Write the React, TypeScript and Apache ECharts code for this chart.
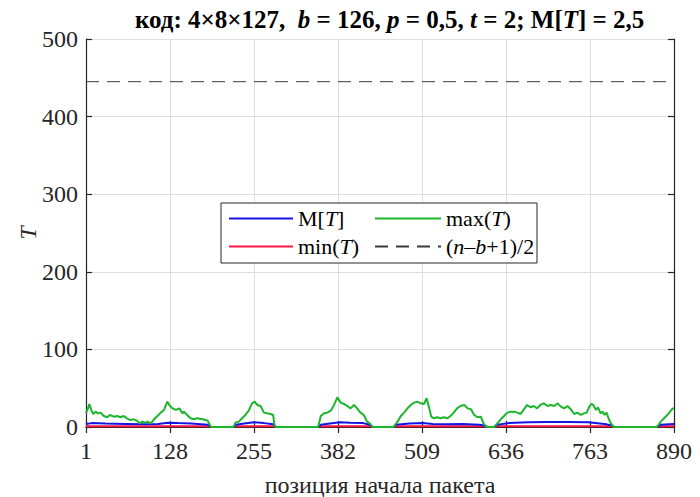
import React, { useEffect, useRef } from 'react';
import * as echarts from 'echarts';

const maxPos = [1, 4, 6, 9, 12, 15.6, 19, 23, 28, 33, 37, 43, 48, 53, 58, 63, 68, 73, 78, 82, 86, 90, 94, 99, 104, 109, 114, 119, 124, 128, 132, 137, 142, 147, 149, 154, 159, 164, 169, 177, 182, 185, 189, 190, 224, 227, 232, 237, 242, 247, 252, 256, 260, 265, 270, 275, 280, 284, 286, 288, 352, 356, 361, 366, 371, 376, 381, 386, 391, 396, 401, 406, 411, 416, 421, 426, 430, 434, 466, 472, 477, 482, 487, 492, 497, 502, 507, 512, 516, 520, 523, 527, 532, 537, 542, 547, 552, 557, 562, 567, 573, 578, 583, 588, 593, 598, 602, 605, 608, 618, 623, 628, 633, 638, 643, 648, 653, 658, 663, 668, 673, 678, 683, 688, 693, 699, 704, 709, 714, 719, 724, 729, 734, 739, 744, 749, 754, 758, 762, 765, 768, 772, 775, 779, 782, 785, 788, 792, 797, 799, 864, 870, 875, 880, 884, 888, 890];
const maxVal = [18, 24, 29.7, 22, 16.8, 19.8, 17.6, 18.5, 14.2, 12.5, 15.5, 13.3, 14.2, 12.5, 14.2, 11.2, 9, 9.9, 8.2, 4.7, 6.9, 5.6, 6.9, 4.7, 9.9, 14.2, 18.5, 21.9, 32.7, 27, 24, 22, 24, 17.6, 19.8, 15.5, 11.2, 9.9, 11.2, 9.9, 9, 8.2, 1.3, 0, 0, 5.6, 6.9, 11.2, 15.5, 21, 30.5, 32.7, 28.4, 27, 18.5, 17.6, 16.8, 15.5, 1.3, 0, 0, 14.2, 17.6, 18.5, 21, 28.4, 38.2, 31.4, 29.7, 27, 24, 28.4, 24, 18.5, 15.5, 6.9, 4.7, 0, 0, 6.9, 14.2, 18.5, 24, 28.4, 31.4, 32.7, 30.5, 29.7, 37, 24, 13.3, 11.2, 12.5, 11.2, 12.5, 11.2, 14.2, 18.5, 24, 27, 28.4, 24, 22.8, 15.5, 12.5, 13.3, 4.7, 1.3, 0, 0, 4.7, 9.9, 14.2, 18.5, 19.8, 19.8, 18.5, 16.8, 22.8, 28.4, 25.4, 27, 24, 28.4, 30.5, 27, 28.4, 27, 30.5, 26.2, 24, 27, 22.8, 16.8, 18.5, 15.5, 17.6, 18.5, 26.2, 29.7, 28.4, 22, 25.4, 17.6, 19.8, 15.5, 18.5, 9, 1.3, 0, 0, 6.9, 11.2, 15.5, 19.8, 24, 24];

const meanPos = [1, 10, 30, 60, 90, 110, 125, 140, 160, 185, 190, 224, 228, 240, 255, 270, 284, 288, 352, 356, 370, 385, 400, 420, 430, 434, 466, 470, 490, 510, 525, 545, 570, 595, 604, 608, 618, 623, 640, 670, 700, 730, 760, 785, 797, 799, 864, 870, 890];
const meanVal = [4, 5, 4.5, 4, 3.5, 4, 5.5, 5, 4.5, 3, 0, 0, 3, 4.5, 6, 5, 3.5, 0, 0, 3, 4.5, 6, 5.5, 5, 3, 0, 0, 3, 4.5, 5, 4, 3.5, 4, 3, 2, 0, 0, 3, 5, 6, 6.5, 6.5, 6, 4, 2, 0, 0, 3, 4];

const minPos = [1, 189, 190, 224, 225, 287, 288, 352, 353, 433, 434, 466, 467, 605, 606, 620, 621, 798, 799, 864, 865, 890];
const minVal = [1, 1, 0, 0, 1, 1, 0, 0, 1, 1, 0, 0, 1, 1, 0, 0, 1, 1, 0, 0, 1, 1];

const boundPos = [1, 890];
const boundVal = [445, 445];

const xMin = 1;
const xMax = 890;
const xStep = 127;
const yMin = 0;
const yMax = 500;
const yStep = 100;

const seriesNames = ['M[T]', 'max(T)', 'min(T)', '(n–b+1)/2'];

const zip = (a: number[], b: number[]) => a.map((x, i) => [x, b[i]]);

const FONT = "'Liberation Serif', 'Times New Roman', 'DejaVu Serif', serif";

export default function App() {
  const ref = useRef<HTMLDivElement>(null);
  useEffect(() => {
    const chart = echarts.init(ref.current!, null, { renderer: 'svg' });
    const legendRich = {
      r: { fontFamily: FONT, fontSize: 22, color: '#000' },
      i: { fontFamily: FONT, fontSize: 22, fontStyle: 'italic', color: '#000' },
    };
    const legendFmt = (name: string) => {
      if (name === 'M[T]') return '{r|M[}{i|T}{r|]}';
      if (name === 'max(T)') return '{r|max(}{i|T}{r|)}';
      if (name === 'min(T)') return '{r|min(}{i|T}{r|)}';
      return '{r|(}{i|n}{r|–}{i|b}{r|+1)/2}';
    };
    const legendItemStyle = { color: 'transparent', borderColor: 'transparent', borderWidth: 0, opacity: 0 };
    const axisCommon = {
      type: 'value',
      axisLine: { show: true, lineStyle: { color: '#262626', width: 1.2 } },
      axisTick: { show: true, inside: true, length: 6, lineStyle: { color: '#262626', width: 1.2 } },
    };
    const option: any = {
      animation: false,
      backgroundColor: '#fff',
      title: {
        text: '{b|код: 4×8×127,  }{i|b}{b| = 126, }{i|p}{b| = 0,5, }{i|t}{b| = 2; M[}{i|T}{b|] = 2,5}',
        left: 130,
        top: 2,
        textStyle: {
          rich: {
            b: { fontFamily: FONT, fontSize: 25, fontWeight: 'bold', color: '#000' },
            i: { fontFamily: FONT, fontSize: 25, fontWeight: 'bold', fontStyle: 'italic', color: '#000' },
          },
        },
      },
      grid: { left: 86, right: 26, top: 39, bottom: 70, outerBoundsMode: 'none', containLabel: false },
      graphic: [
        {
          type: 'rect',
          z: 3,
          shape: { x: 221, y: 203, width: 316, height: 60 },
          style: { fill: '#fff', stroke: '#262626', lineWidth: 1 },
        },
      ],
      legend: [
        {
          data: [seriesNames[0], seriesNames[2]],
          orient: 'vertical',
          left: 223,
          top: 202,
          itemWidth: 64,
          itemHeight: 14,
          itemGap: 5,
          formatter: legendFmt,
          itemStyle: legendItemStyle,
          textStyle: { rich: legendRich, lineHeight: 23 },
          z: 5,
        },
        {
          data: [seriesNames[1], seriesNames[3]],
          orient: 'vertical',
          left: 369,
          top: 202,
          itemWidth: 66,
          itemHeight: 14,
          itemGap: 5,
          formatter: legendFmt,
          itemStyle: legendItemStyle,
          textStyle: { rich: legendRich, lineHeight: 23 },
          z: 5,
        },
      ],
      xAxis: [
        {
          ...axisCommon,
          position: 'bottom',
          min: xMin,
          max: xMax,
          interval: xStep,
          name: 'позиция начала пакета',
          nameLocation: 'middle',
          nameGap: 46,
          nameMoveOverlap: false,
          nameTextStyle: { fontFamily: FONT, fontSize: 24, color: '#262626' },
          axisLabel: { fontFamily: FONT, fontSize: 24, color: '#262626', margin: 12 },
          splitLine: { show: true, lineStyle: { color: '#dedede', width: 1 } },
        },
        {
          ...axisCommon,
          position: 'top',
          min: xMin,
          max: xMax,
          interval: xStep,
          axisLabel: { show: false },
          splitLine: { show: false },
        },
      ],
      yAxis: [
        {
          ...axisCommon,
          position: 'left',
          min: yMin,
          max: yMax,
          interval: yStep,
          name: 'T',
          nameLocation: 'middle',
          nameGap: 46,
          nameMoveOverlap: false,
          nameTextStyle: { fontFamily: FONT, fontSize: 24, fontStyle: 'italic', color: '#262626' },
          axisLabel: { fontFamily: FONT, fontSize: 24, color: '#262626', margin: 8 },
          splitLine: { show: true, lineStyle: { color: '#dedede', width: 1 } },
        },
        {
          ...axisCommon,
          position: 'right',
          min: yMin,
          max: yMax,
          interval: yStep,
          axisLabel: { show: false },
          splitLine: { show: false },
        },
      ],
      series: [
        {
          name: seriesNames[3],
          type: 'line',
          data: zip(boundPos, boundVal),
          symbol: 'none',
          lineStyle: { color: '#3a3a3a', width: 1, type: [13, 8] },
          itemStyle: { color: '#3a3a3a' },
          z: 2,
        },
        {
          name: seriesNames[2],
          type: 'line',
          data: zip(minPos, minVal),
          symbol: 'none',
          lineStyle: { color: '#ff1744', width: 2 },
          itemStyle: { color: '#ff1744' },
          z: 2,
        },
        {
          name: seriesNames[0],
          type: 'line',
          data: zip(meanPos, meanVal),
          symbol: 'none',
          lineStyle: { color: '#1414e6', width: 2 },
          itemStyle: { color: '#1414e6' },
          z: 2,
        },
        {
          name: seriesNames[1],
          type: 'line',
          data: zip(maxPos, maxVal),
          symbol: 'none',
          lineStyle: { color: '#1cb52c', width: 2 },
          itemStyle: { color: '#1cb52c' },
          z: 2,
        },
      ],
    };
    chart.setOption(option);
    return () => chart.dispose();
  }, []);
  return <div ref={ref} style={{ width: 700, height: 497, position: 'absolute', left: 0, top: 0 }} />;
}
